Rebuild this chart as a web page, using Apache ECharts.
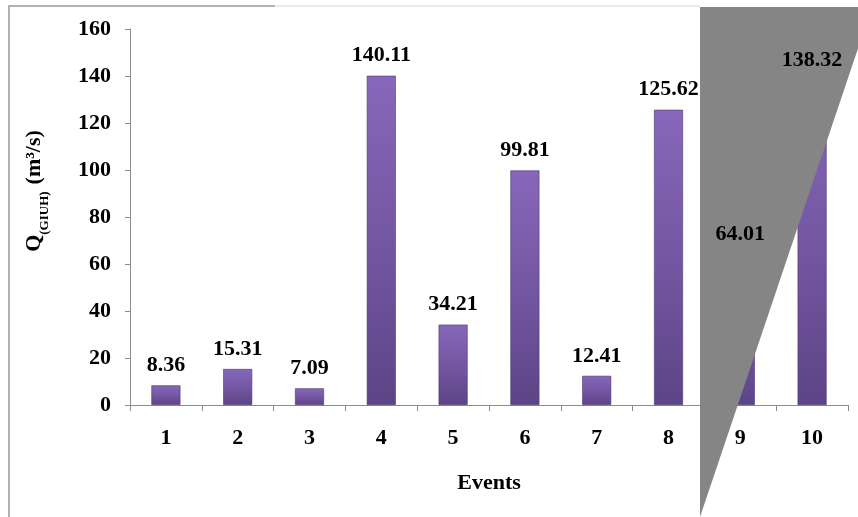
<!DOCTYPE html>
<html>
<head>
<meta charset="utf-8">
<script src="https://cdn.jsdelivr.net/npm/echarts@6/dist/echarts.min.js"></script>
<style>
html,body{margin:0;padding:0;background:#fff;}
#chart{width:858px;height:517px;}
</style>
</head>
<body>
<div id="chart"></div>
<script>
var categories = ['1', '2', '3', '4', '5', '6', '7', '8', '9', '10'];
var discharge = [8.36, 15.31, 7.09, 140.11, 34.21, 99.81, 12.41, 125.62, 64.01, 138.32];
var yTicks = [0, 20, 40, 60, 80, 100, 120, 140, 160];
var xTitle = 'Events';

var FONT = '"Liberation Serif", "Times New Roman", serif';
var chart = echarts.init(document.getElementById('chart'));

var barFill = new echarts.graphic.LinearGradient(0, 0, 0, 1, [
  { offset: 0, color: '#8667ba' },
  { offset: 0.5, color: '#7457a3' },
  { offset: 1, color: '#5d4486' }
]);

chart.setOption({
  animation: false,
  backgroundColor: '#ffffff',
  grid: { left: 130, right: 10, top: 29, bottom: 112, containLabel: false },
  xAxis: {
    type: 'category',
    data: categories,
    name: xTitle,
    nameLocation: 'middle',
    nameGap: 67,
    nameTextStyle: { fontFamily: FONT, fontWeight: 'bold', fontSize: 22, color: '#000' },
    axisLine: { show: true, lineStyle: { color: '#8c8c8c', width: 1 } },
    axisTick: { show: true, length: 6, lineStyle: { color: '#8c8c8c' } },
    axisLabel: { margin: 22, fontFamily: FONT, fontWeight: 'bold', fontSize: 22, color: '#000' },
    splitLine: { show: false }
  },
  yAxis: {
    type: 'value',
    min: yTicks[0],
    max: yTicks[yTicks.length - 1],
    interval: yTicks[1] - yTicks[0],
    name: '{q|Q}{sub|(GIUH)}{sp|  }{u|(m³/s)}',
    nameLocation: 'middle',
    nameRotate: 90,
    nameGap: 85,
    nameTextStyle: {
      padding: [0, 0, 0, 52],
      fontFamily: FONT, fontWeight: 'bold', color: '#000',
      rich: {
        q: { fontFamily: FONT, fontWeight: 'bold', fontSize: 22, color: '#000', verticalAlign: 'bottom', lineHeight: 26 },
        sub: { fontFamily: FONT, fontWeight: 'bold', fontSize: 13, color: '#000', verticalAlign: 'bottom', lineHeight: 26, padding: [0, 0, -6, 0] },
        sp: { fontFamily: FONT, fontSize: 14 },
        u: { fontFamily: FONT, fontWeight: 'bold', fontSize: 22, color: '#000', verticalAlign: 'bottom', lineHeight: 26 }
      }
    },
    axisLine: { show: true, lineStyle: { color: '#8c8c8c', width: 1 } },
    axisTick: { show: true, length: 5, lineStyle: { color: '#8c8c8c' } },
    axisLabel: { margin: 19, fontFamily: FONT, fontWeight: 'bold', fontSize: 22, color: '#000' },
    splitLine: { show: false }
  },
  series: [
    {
      type: 'bar',
      data: discharge,
      barWidth: 29,
      z: 2,
      itemStyle: { color: barFill, borderColor: '#4d3771', borderWidth: 0.6 },
      label: { show: false }
    },
    {
      type: 'bar',
      data: discharge,
      barWidth: 29,
      barGap: '-100%',
      z: 10,
      itemStyle: { color: 'rgba(0,0,0,0)' },
      label: {
        show: true,
        position: 'top',
        distance: 9,
        fontFamily: FONT,
        fontWeight: 'bold',
        fontSize: 22,
        color: '#000',
        formatter: function (p) { return p.value.toFixed(2); }
      },
      tooltip: { show: false }
    }
  ],
  graphic: [
    {
      type: 'polyline',
      z: 0,
      shape: { points: [[9, 517], [9, 6], [275, 6]] },
      style: { stroke: '#9a9a9a', lineWidth: 1.5, fill: null }
    },
    {
      type: 'line',
      z: 0,
      shape: { x1: 275, y1: 6, x2: 700, y2: 6 },
      style: { stroke: '#d4d4d4', lineWidth: 1 }
    },
    {
      type: 'polygon',
      z: 5,
      shape: { points: [[700, 7], [872, 7], [700, 517]] },
      style: { fill: '#858585', stroke: null }
    }
  ]
});
</script>
</body>
</html>
